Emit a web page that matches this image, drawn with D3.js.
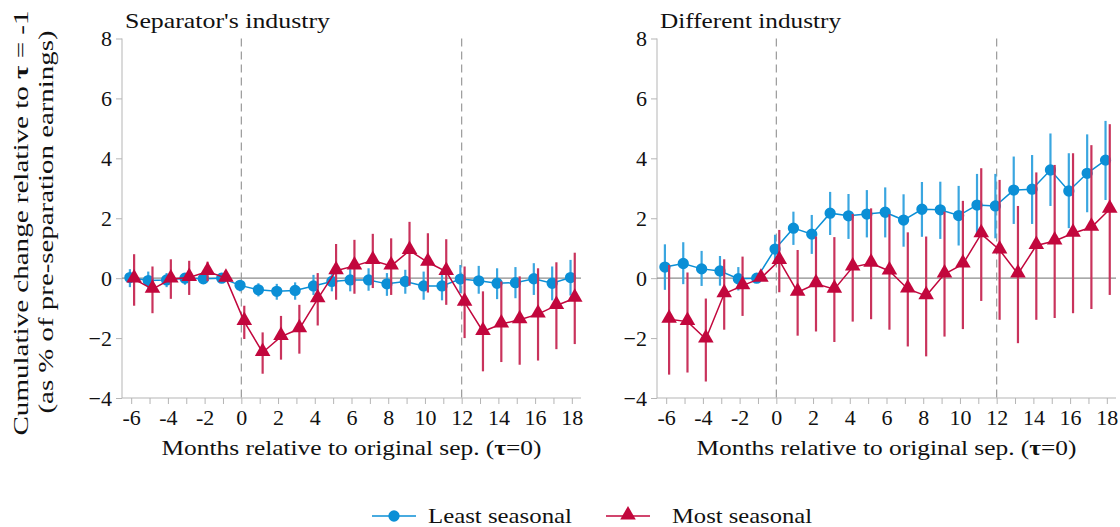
<!DOCTYPE html>
<html>
<head>
<meta charset="utf-8">
<script src="https://cdn.jsdelivr.net/npm/d3@7"></script>
<style>
  html, body { margin: 0; padding: 0; background: #fff; }
  svg { display: block; }
  text { font-family: "Liberation Serif", "DejaVu Serif", serif; fill: #111; }
</style>
</head>
<body>
<svg id="chart" width="1120" height="527"></svg>
<script>
// Months relative to the original separation
const months = d3.range(-6, 19);
const xTicks = [-6, -4, -2, 0, 2, 4, 6, 8, 10, 12, 14, 16, 18];
const yTicks = [-4, -2, 0, 2, 4, 6, 8];
const panelTitles = ["Separator's industry", "Different industry"];
const seriesNames = ["Least seasonal", "Most seasonal"];

// Separator's industry — least seasonal
const sameLeast   = [0.02, -0.08, -0.06, 0.00, -0.02, 0.00, -0.24, -0.39, -0.44, -0.41, -0.26, -0.11, -0.06, -0.06, -0.19, -0.11, -0.26, -0.26, -0.03, -0.09, -0.17, -0.15, -0.02, -0.17, 0.02];
const sameLeastHi = [0.30, 0.22, 0.17, 0.14, 0.13, 0.00, -0.08, -0.17, -0.19, -0.14, 0.11, 0.17, 0.30, 0.33, 0.17, 0.28, 0.22, 0.17, 0.44, 0.41, 0.33, 0.37, 0.50, 0.39, 0.61];
const sameLeastLo = [-0.30, -0.37, -0.30, -0.22, -0.17, 0.00, -0.44, -0.61, -0.72, -0.72, -0.56, -0.44, -0.44, -0.42, -0.59, -0.52, -0.72, -0.74, -0.50, -0.52, -0.70, -0.67, -0.56, -0.74, -0.58];
// Separator's industry — most seasonal
const sameMost    = [-0.03, -0.37, -0.03, 0.02, 0.22, 0.00, -1.45, -2.48, -1.95, -1.69, -0.69, 0.25, 0.41, 0.59, 0.41, 0.92, 0.53, 0.22, -0.80, -1.78, -1.53, -1.39, -1.20, -0.91, -0.67];
const sameMostHi  = [0.80, 0.39, 0.63, 0.58, 0.55, 0.00, -0.92, -1.81, -1.26, -0.89, 0.17, 1.14, 1.28, 1.48, 1.33, 1.88, 1.50, 1.30, 0.39, -0.44, -0.11, 0.06, 0.33, 0.53, 0.85];
const sameMostLo  = [-0.92, -1.17, -0.69, -0.56, -0.10, 0.00, -2.03, -3.19, -2.72, -2.52, -1.58, -0.72, -0.52, -0.33, -0.56, -0.25, -0.48, -0.89, -2.00, -3.11, -2.80, -2.89, -2.75, -2.37, -2.20];

// Different industry — least seasonal
const diffLeast   = [0.37, 0.49, 0.31, 0.24, -0.02, 0.00, 0.97, 1.67, 1.47, 2.17, 2.08, 2.14, 2.20, 1.94, 2.30, 2.28, 2.09, 2.44, 2.41, 2.94, 2.97, 3.61, 2.91, 3.50, 3.94];
const diffLeastHi = [1.13, 1.20, 0.91, 0.74, 0.37, 0.00, 1.45, 2.22, 2.11, 2.88, 2.81, 2.94, 3.03, 2.80, 3.21, 3.22, 3.08, 3.48, 3.48, 4.06, 4.11, 4.83, 4.17, 4.80, 5.25];
const diffLeastLo = [-0.39, -0.20, -0.26, -0.25, -0.41, 0.00, 0.50, 1.11, 0.81, 1.44, 1.31, 1.36, 1.36, 1.05, 1.38, 1.31, 1.09, 1.44, 1.33, 1.81, 1.81, 2.41, 1.67, 2.20, 2.61];
// Different industry — most seasonal
const diffMost    = [-1.37, -1.45, -2.03, -0.52, -0.25, 0.00, 0.59, -0.47, -0.19, -0.37, 0.37, 0.50, 0.24, -0.36, -0.59, 0.14, 0.47, 1.48, 0.94, 0.14, 1.09, 1.24, 1.50, 1.70, 2.30];
const diffMostHi  = [0.44, 0.19, -0.68, 0.63, 0.72, 0.00, 1.61, 0.94, 1.39, 1.37, 2.14, 2.33, 2.13, 1.53, 1.39, 2.22, 2.58, 3.67, 3.28, 2.41, 3.53, 3.78, 4.17, 4.44, 5.14];
const diffMostLo  = [-3.22, -3.15, -3.45, -1.72, -1.26, 0.00, -0.47, -1.92, -1.78, -2.13, -1.45, -1.37, -1.72, -2.28, -2.61, -1.95, -1.70, -0.76, -1.39, -2.17, -1.39, -1.33, -1.17, -1.03, -0.56];

const panels = [
  { title: panelTitles[0], titleW: 205, left: 122, series: [
      { est: sameLeast, hi: sameLeastHi, lo: sameLeastLo },
      { est: sameMost,  hi: sameMostHi,  lo: sameMostLo } ] },
  { title: panelTitles[1], titleW: 181, left: 657, series: [
      { est: diffLeast, hi: diffLeastHi, lo: diffLeastLo },
      { est: diffMost,  hi: diffMostHi,  lo: diffMostLo } ] }
];

// per-series style: colour, CI colour, small horizontal dodge (in months)
const styles = [
  { color: "#0b8fd6", ci: "#3aa6e0", dodge: -0.07, shape: "circle" },
  { color: "#c2073d", ci: "#c9335c", dodge: 0.16, shape: "triangle" }
];

const svg = d3.select("#chart");
const plotW = 459, plotTop = 38.5, plotBottom = 398;
const y = d3.scaleLinear().domain([-4, 8]).range([plotBottom, plotTop]);
const axisGray = "#b5b5b5";
const fontSize = "22px";

// stretch a text run to a fixed advance width (wide roman face)
const fit = (sel, w) => sel.attr("textLength", w).attr("lengthAdjust", "spacingAndGlyphs");

panels.forEach(p => {
  const x = d3.scaleLinear().domain([-6.5, 18.5]).range([p.left, p.left + plotW]);
  const g = svg.append("g");

  // title
  g.append("text").attr("x", p.left + 3).attr("y", 28)
    .style("font-size", fontSize).text(p.title).call(fit, p.titleW);

  // y axis
  const ya = g.append("g").attr("transform", `translate(${p.left},0)`)
    .call(d3.axisLeft(y).tickValues(yTicks).tickSize(6).tickPadding(4).tickFormat(d3.format("d")));
  ya.select(".domain").attr("stroke", axisGray).attr("d", `M0,${plotTop}V${plotBottom}`);
  ya.selectAll(".tick line").attr("stroke", axisGray);
  ya.selectAll(".tick text").style("font-size", fontSize).style("font-family", "Liberation Serif, serif").attr("fill", "#111");

  // x axis: minor ticks every month, labels every two months
  const xa = g.append("g").attr("transform", `translate(0,${plotBottom})`)
    .call(d3.axisBottom(x).tickValues(months).tickSize(6).tickPadding(5)
      .tickFormat(d => xTicks.includes(d) ? d : ""));
  xa.select(".domain").attr("stroke", axisGray).attr("d", `M${p.left},0H${p.left + plotW}`);
  xa.selectAll(".tick line").attr("stroke", axisGray);
  xa.selectAll(".tick text").style("font-size", fontSize).style("font-family", "Liberation Serif, serif").attr("fill", "#111");

  g.append("text").attr("x", x(6)).attr("y", 455).attr("text-anchor", "middle")
    .style("font-size", fontSize)
    .html("Months relative to original sep. (<tspan font-weight='bold'>τ</tspan>=0)")
    .call(fit, 380);

  // zero line and reference months
  g.append("line").attr("x1", p.left).attr("x2", p.left + plotW)
    .attr("y1", y(0)).attr("y2", y(0)).attr("stroke", "#8c8c8c").attr("stroke-width", 1.2);
  [0, 12].forEach(m => {
    g.append("line").attr("x1", x(m)).attr("x2", x(m)).attr("y1", plotTop).attr("y2", plotBottom)
      .attr("stroke", "#9a9a9a").attr("stroke-width", 1.2).attr("stroke-dasharray", "8,5");
  });

  p.series.forEach((s, si) => {
    const st = styles[si];
    const xs = i => x(months[i] + st.dodge);
    // confidence intervals
    g.append("g").selectAll("line").data(months).join("line")
      .attr("x1", (d, i) => xs(i)).attr("x2", (d, i) => xs(i))
      .attr("y1", (d, i) => y(s.hi[i])).attr("y2", (d, i) => y(s.lo[i]))
      .attr("stroke", st.ci).attr("stroke-width", 2.2);
    // connecting line
    g.append("path").datum(months)
      .attr("d", d3.line().x((d, i) => xs(i)).y((d, i) => y(s.est[i])))
      .attr("fill", "none").attr("stroke", st.color).attr("stroke-width", 1.5);
    // markers
    const sym = st.shape === "circle"
      ? d3.symbol().type(d3.symbolCircle).size(100)
      : d3.symbol().type(d3.symbolTriangle).size(105);
    g.append("g").selectAll("path").data(months).join("path")
      .attr("d", sym)
      .attr("transform", (d, i) => `translate(${xs(i)},${y(s.est[i]) + (st.shape === "triangle" ? -1 : 0)})`)
      .attr("fill", st.color);
  });
});

// shared y-axis title
const yt = svg.append("text").attr("transform", `translate(28,223) rotate(-90)`)
  .attr("text-anchor", "middle").style("font-size", fontSize);
yt.append("tspan").text("Cumulative change relative to ");
yt.append("tspan").attr("font-weight", "bold").text("τ");
yt.append("tspan").text(" = -1");
yt.call(fit, 425);
svg.append("text").attr("transform", `translate(53,222) rotate(-90)`)
  .attr("text-anchor", "middle").style("font-size", fontSize)
  .text("(as % of pre-separation earnings)").call(fit, 383);

// legend
const legend = svg.append("g");
const legendPos = [{ x: 372, tx: 428, w: 144 }, { x: 606, tx: 672, w: 140 }];
seriesNames.forEach((name, i) => {
  const st = styles[i], lp = legendPos[i];
  legend.append("line").attr("x1", lp.x).attr("x2", lp.x + 44).attr("y1", 516).attr("y2", 516)
    .attr("stroke", st.color).attr("stroke-width", 1.5);
  legend.append("path")
    .attr("d", d3.symbol().type(st.shape === "circle" ? d3.symbolCircle : d3.symbolTriangle).size(st.shape === "circle" ? 100 : 105))
    .attr("transform", `translate(${lp.x + 22},${516 + (st.shape === "triangle" ? -1 : 0)})`)
    .attr("fill", st.color);
  legend.append("text").attr("x", lp.tx).attr("y", 523).style("font-size", fontSize).text(name).call(fit, lp.w);
});
</script>
</body>
</html>
